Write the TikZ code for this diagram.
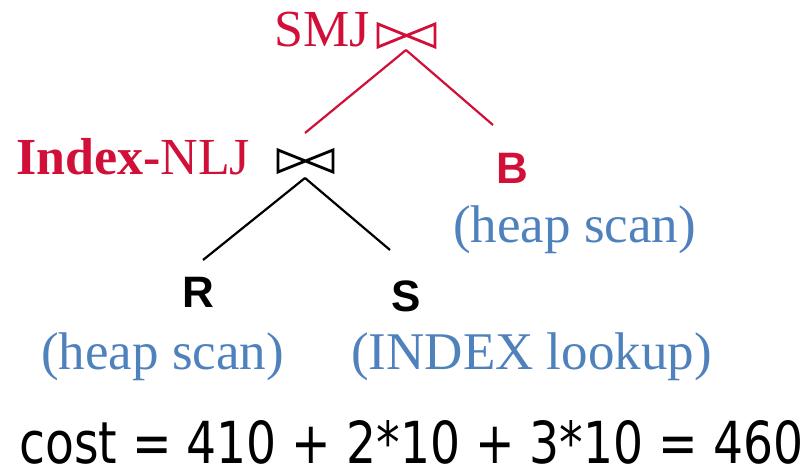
\documentclass[tikz,border=0pt]{standalone}
\usepackage{fontspec}
\usepackage{graphicx}
\setmainfont{Liberation Serif}
\newfontfamily\arialf{Liberation Sans}
\newfontfamily\dejavu{DejaVu Sans}
\definecolor{jred}{RGB}{208,16,56}
\definecolor{jblue}{RGB}{79,129,189}
\tikzset{
  lbl/.style={inner sep=0pt, anchor=base west},
  redlbl/.style={lbl, text=jred, font=\fontsize{52}{60}\selectfont},
  bluelbl/.style={lbl, text=jblue, font=\fontsize{53}{60}\selectfont},
  rel/.style={lbl, font=\arialf\bfseries\fontsize{44}{50}\selectfont},
  bowtie/.style={line width=2.8pt, line join=miter},
  edge/.style={line width=2.2pt},
}
\begin{document}
\begin{tikzpicture}[x=1pt,y=-1pt]
\useasboundingbox (0,0) rectangle (811,473);
% SMJ
\node[redlbl] (smj) at (274,47) {SMJ};
\draw[bowtie, jred] (378,24) -- (378,47) -- (435,24) -- (435,47) -- cycle;
\coordinate (smjb) at (406,50);
% Index-NLJ
\node[redlbl] (inlj) at (16,175) {\textbf{Index-}NLJ};
\draw[bowtie, black] (278,150) -- (278,172) -- (333,150) -- (333,172) -- cycle;
\coordinate (nljt) at (305,133);
\coordinate (nljb) at (305,178);
% B
\node[rel, text=jred] (b) at (496,184) {B};
\coordinate (bt) at (493,125);
\node[bluelbl] (bscan) at (453,243) {(heap scan)};
% R
\node[rel] (r) at (182,307) {R};
\coordinate (rt) at (203,260);
\node[bluelbl] (rscan) at (41,369) {(heap scan)};
% S
\node[rel] (s) at (391,311) {S};
\coordinate (st) at (390,250);
\node[bluelbl] (sscan) at (351,369) {(INDEX lookup)};
% edges
\draw[edge, jred] (smjb) -- (nljt);
\draw[edge, jred] (smjb) -- (bt);
\draw[edge, black] (nljb) -- (rt);
\draw[edge, black] (nljb) -- (st);
% cost
\node[lbl] (cost) at (19,463) {\resizebox{784pt}{43pt}{\dejavu cost = 410 + 2*10 + 3*10 = 460}};
\end{tikzpicture}
\end{document}
